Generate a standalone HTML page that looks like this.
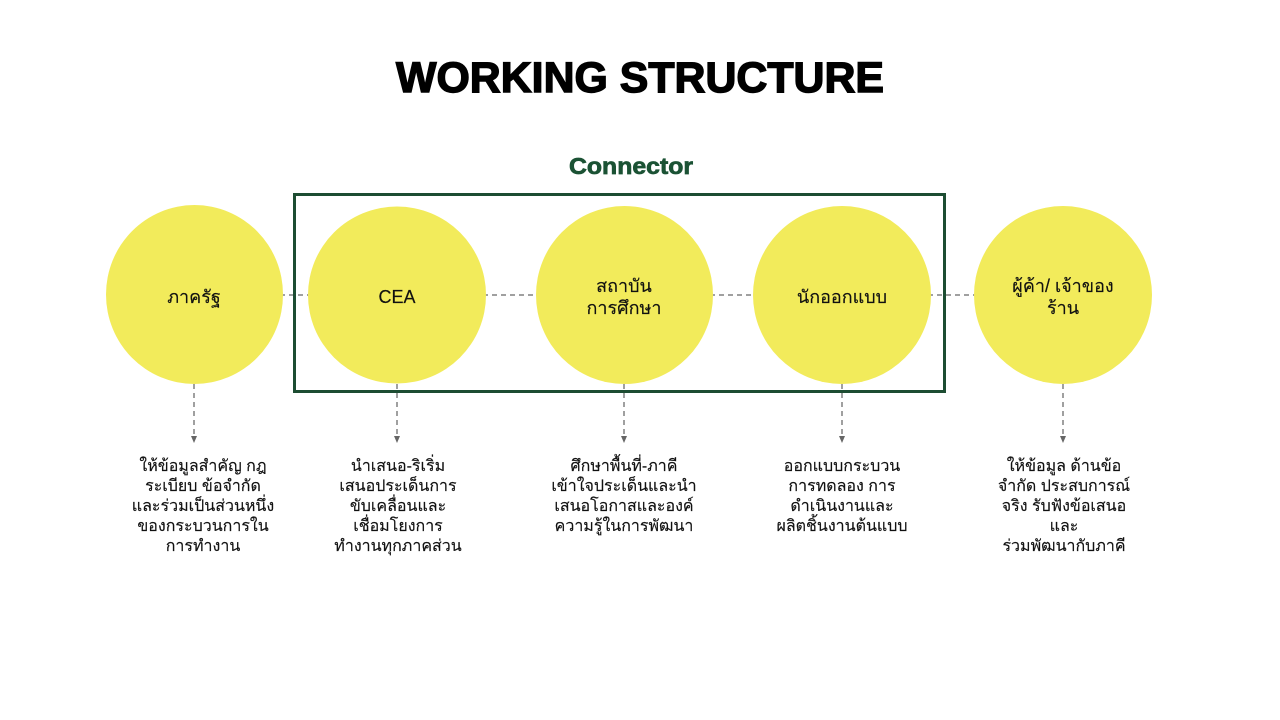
<!DOCTYPE html>
<html><head><meta charset="utf-8"><style>
html,body{margin:0;padding:0;background:#fff;}
svg{display:block;}
.t{font-family:"Liberation Sans","Noto Sans CJK SC","DejaVu Sans",sans-serif;fill:#111;text-anchor:middle;stroke:#111;stroke-width:0.15;}
</style></head><body>
<svg width="1280" height="720" viewBox="0 0 1280 720" xmlns="http://www.w3.org/2000/svg">
<rect width="1280" height="720" fill="#fff"/>
<text x="640" y="92" font-family="Liberation Sans, sans-serif" font-weight="bold" font-size="43" text-anchor="middle" textLength="488" lengthAdjust="spacingAndGlyphs" fill="#000" stroke="#000" stroke-width="1.4">WORKING STRUCTURE</text>
<text x="631" y="174" font-family="Liberation Sans, sans-serif" font-weight="bold" font-size="23" text-anchor="middle" textLength="124" lengthAdjust="spacingAndGlyphs" fill="#1b5234" stroke="#1b5234" stroke-width="0.7">Connector</text>

<g stroke="#808080" stroke-width="1.5" stroke-dasharray="5,4" fill="none">
<line x1="280" y1="295" x2="312" y2="295"/>
<line x1="483" y1="295" x2="540" y2="295"/>
<line x1="710" y1="295" x2="756" y2="295"/>
<line x1="928" y1="295" x2="978" y2="295"/>
<line x1="194" y1="384" x2="194" y2="437"/>
<line x1="397" y1="384" x2="397" y2="437"/>
<line x1="624" y1="384" x2="624" y2="437"/>
<line x1="842" y1="384" x2="842" y2="437"/>
<line x1="1063" y1="384" x2="1063" y2="437"/>
</g>
<g fill="#666">
<polygon points="191,436 197,436 194,443"/>
<polygon points="394,436 400,436 397,443"/>
<polygon points="621,436 627,436 624,443"/>
<polygon points="839,436 845,436 842,443"/>
<polygon points="1060,436 1066,436 1063,443"/>
</g>

<g fill="#f2eb5b">
<ellipse cx="194.5" cy="294.5" rx="88.5" ry="89.5"/>
<ellipse cx="397" cy="295" rx="89" ry="88.5"/>
<ellipse cx="624.5" cy="295" rx="88.5" ry="89"/>
<ellipse cx="842" cy="295" rx="89" ry="89"/>
<ellipse cx="1063" cy="295" rx="89" ry="89"/>
</g>

<rect x="294.5" y="194.5" width="650" height="197" fill="none" stroke="#1d4d32" stroke-width="3"/>

<g class="t" font-size="18">
<text x="194" y="303">ภาครัฐ</text>
<text x="397" y="303">CEA</text>
<text x="624" y="292">สถาบัน</text>
<text x="624" y="314">การศึกษา</text>
<text x="842" y="303">นักออกแบบ</text>
<text x="1063" y="292">ผู้ค้า/ เจ้าของ</text>
<text x="1063" y="314">ร้าน</text>
</g>

<g class="t" font-size="16">
<text x="203" y="471">ให้ข้อมูลสำคัญ กฎ</text>
<text x="203" y="491">ระเบียบ ข้อจำกัด</text>
<text x="203" y="511">และร่วมเป็นส่วนหนึ่ง</text>
<text x="203" y="531">ของกระบวนการใน</text>
<text x="203" y="551">การทำงาน</text>

<text x="398" y="471">นำเสนอ-ริเริ่ม</text>
<text x="398" y="491">เสนอประเด็นการ</text>
<text x="398" y="511">ขับเคลื่อนและ</text>
<text x="398" y="531">เชื่อมโยงการ</text>
<text x="398" y="551">ทำงานทุกภาคส่วน</text>

<text x="624" y="471">ศึกษาพื้นที่-ภาคี</text>
<text x="624" y="491">เข้าใจประเด็นและนำ</text>
<text x="624" y="511">เสนอโอกาสและองค์</text>
<text x="624" y="531">ความรู้ในการพัฒนา</text>

<text x="842" y="471">ออกแบบกระบวน</text>
<text x="842" y="491">การทดลอง การ</text>
<text x="842" y="511">ดำเนินงานและ</text>
<text x="842" y="531">ผลิตชิ้นงานต้นแบบ</text>

<text x="1064" y="471">ให้ข้อมูล ด้านข้อ</text>
<text x="1064" y="491">จำกัด ประสบการณ์</text>
<text x="1064" y="511">จริง รับฟังข้อเสนอ</text>
<text x="1064" y="531">และ</text>
<text x="1064" y="551">ร่วมพัฒนากับภาคี</text>
</g>
</svg>
</body></html>
